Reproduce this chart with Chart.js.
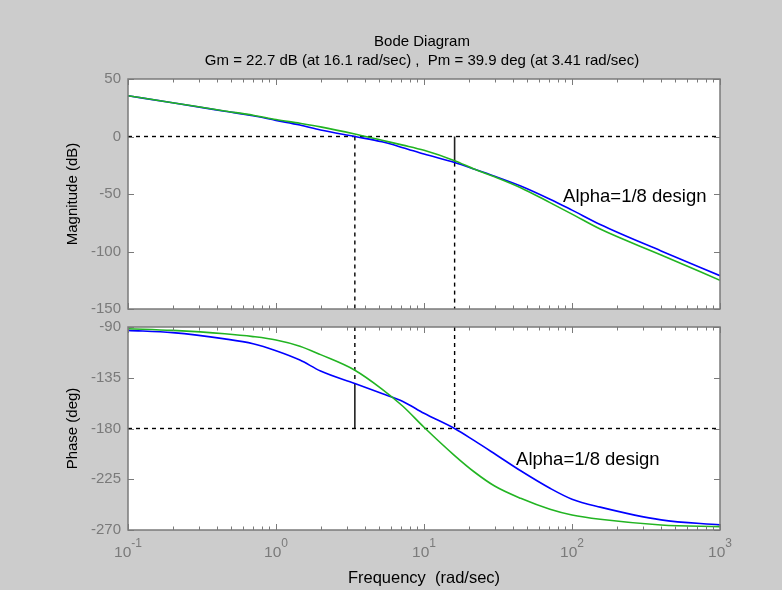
<!DOCTYPE html>
<html>
<head>
<meta charset="utf-8">
<script src="https://cdn.jsdelivr.net/npm/chart.js@4.4.1/dist/chart.umd.min.js"></script>
<style>
  html, body { margin: 0; padding: 0; background: #cccccc; overflow: hidden; }
  canvas { position: absolute; left: 0; top: 0; }
</style>
</head>
<body>
<canvas id="mag" width="782" height="590"></canvas>
<canvas id="phase" width="782" height="590"></canvas>
<script>
// frequencies (rad/sec) the curves were read at
const freq = [0.1, 0.2, 0.45, 0.7, 1, 1.45, 2, 3.41, 5.2, 7.2, 10, 16.1, 22, 30, 45, 71, 100, 155, 400, 1000];

// magnitude (dB)
const magBlue  = [35.4, 29.3, 22, 18, 14, 10, 5.7, 0, -4.6, -9.7, -15.3, -22.7, -28.5, -34.5, -43, -54.5, -64, -76.5, -99.5, -121];
const magGreen = [35.4, 29.4, 22.2, 18.5, 14.8, 11.5, 8.4, 2.2, -3.3, -7.5, -12, -21, -28.5, -35, -44.5, -57.5, -67.5, -80.5, -103, -125];

// phase (deg)
const phaseBlue  = [-93, -95, -100.5, -104.8, -111, -119.3, -129, -140.1, -149, -156, -166.5, -180, -191, -202.4, -217.5, -233, -242.7, -249.7, -261, -265.5];
const phaseGreen = [-91.5, -93, -96, -98.5, -101.5, -107, -114.5, -128.3, -145, -160.3, -178.9, -204, -218.8, -231, -241.9, -251.6, -256.7, -260.5, -265.5, -267];

// axes
const freqRange = [0.1, 1000];
const decadeExps = [-1, 0, 1, 2, 3];
const magRange = [-150, 50];
const magStep = 50;
const phaseRange = [-270, -90];
const phaseStep = 45;

// margins
const gm = 22.7, gmFreq = 16.1;
const pm = 39.9, pmFreq = 3.41;

// text notes (left edge at x, middle at y)
const noteText = 'Alpha=1/8 design';
const magNote = [87, -52.4];
const phaseNote = [41.9, -207.9];

const FONT = "'Liberation Sans', Arial, Helvetica, sans-serif";

const frame = {
  id: 'frame',
  beforeDraw(chart) {
    const {ctx, chartArea: a} = chart;
    ctx.save();
    ctx.fillStyle = '#ffffff';
    ctx.fillRect(a.left, a.top, a.width, a.height);
    ctx.restore();
  },
  afterDraw(chart, args, opts) {
    const {ctx, chartArea: a, scales} = chart;
    const xs = scales.x, ys = scales.y;
    ctx.save();
    ctx.strokeStyle = '#7a7a7a';
    ctx.lineWidth = 1;
    ctx.beginPath();
    ys.ticks.forEach(t => {
      const py = Math.round(ys.getPixelForValue(t.value)) + 0.5;
      ctx.moveTo(a.left, py); ctx.lineTo(a.left + 6, py);
      ctx.moveTo(a.right, py); ctx.lineTo(a.right - 6, py);
    });
    decadeExps.forEach(d => {
      for (let m = 1; m <= 9; m++) {
        const f = m * Math.pow(10, d);
        if (f > freqRange[1]) break;
        const px = Math.round(xs.getPixelForValue(f)) + 0.5;
        const len = m === 1 ? 6 : 3.5;
        ctx.moveTo(px, a.top); ctx.lineTo(px, a.top + len);
        ctx.moveTo(px, a.bottom); ctx.lineTo(px, a.bottom - len);
      }
    });
    ctx.stroke();
    ctx.lineWidth = 1.5;
    ctx.strokeRect(a.left, a.top, a.width, a.height);

    // note inside the plot
    ctx.fillStyle = '#000';
    ctx.font = '18.5px ' + FONT;
    ctx.textAlign = 'left';
    ctx.textBaseline = 'middle';
    const n = opts.note;
    ctx.fillText(noteText, xs.getPixelForValue(n[0]), ys.getPixelForValue(n[1]));

    const cx = (a.left + a.right) / 2;
    // title lines
    if (opts.title) {
      ctx.textAlign = 'center';
      ctx.font = '15px ' + FONT;
      opts.title.forEach((line, i) => ctx.fillText(line, cx - 2, 42 + i * 19));
    }
    // decade labels 10^n and x title
    if (opts.xLabels) {
      ctx.fillStyle = '#7a7a7a';
      decadeExps.forEach(d => {
        const px = xs.getPixelForValue(Math.pow(10, d));
        ctx.font = '15.5px ' + FONT;
        const w1 = ctx.measureText('10').width;
        ctx.font = '12px ' + FONT;
        const w2 = ctx.measureText(String(d)).width;
        const x0 = px - (w1 + w2) / 2;
        ctx.textAlign = 'left';
        ctx.textBaseline = 'alphabetic';
        ctx.font = '15.5px ' + FONT;
        ctx.fillText('10', x0, 557);
        ctx.font = '12px ' + FONT;
        ctx.fillText(String(d), x0 + w1, 547);
      });
      ctx.fillStyle = '#000';
      ctx.font = '16.5px ' + FONT;
      ctx.textAlign = 'center';
      ctx.textBaseline = 'middle';
      ctx.fillText('Frequency  (rad/sec)', cx, 578);
    }
    ctx.restore();
  }
};

function pts(ys) {
  return freq.map((f, i) => ({x: f, y: ys[i]}));
}

function curve(data, color) {
  return {data, borderColor: color, borderWidth: 1.6, pointRadius: 0,
          cubicInterpolationMode: 'monotone', fill: false};
}

function guide(data, dashed) {
  return {data, borderColor: dashed ? '#000' : '#222', borderWidth: dashed ? 1.4 : 1.6,
          borderDash: dashed ? [4, 4] : [], pointRadius: 0, fill: false};
}

function options(range, step, yTitle, pad, plug) {
  return {
    responsive: false,
    animation: false,
    events: [],
    layout: {padding: pad},
    plugins: {legend: {display: false}, tooltip: {enabled: false}, frame: plug},
    scales: {
      x: {type: 'logarithmic', display: false, min: freqRange[0], max: freqRange[1]},
      y: {
        min: range[0], max: range[1],
        grid: {display: false, drawTicks: false},
        border: {display: false},
        ticks: {stepSize: step, padding: 7, color: '#7a7a7a', font: {family: FONT, size: 15}},
        title: {display: true, text: yTitle, color: '#000', padding: {top: 4, bottom: 0},
                font: {family: FONT, size: 15}},
        afterFit(s) { s.width = 68; }
      }
    }
  };
}

const pmPhase = -180 + pm;

new Chart(document.getElementById('mag'), {
  type: 'line',
  data: {
    datasets: [
      curve(pts(magGreen), '#22b422'),
      curve(pts(magBlue), '#0000ff'),
      guide([{x: freqRange[0], y: 0}, {x: freqRange[1], y: 0}], true),
      guide([{x: pmFreq, y: 0}, {x: pmFreq, y: magRange[0]}], true),
      guide([{x: gmFreq, y: 0}, {x: gmFreq, y: -gm}], false),
      guide([{x: gmFreq, y: -gm}, {x: gmFreq, y: magRange[0]}], true)
    ]
  },
  options: options(magRange, magStep, 'Magnitude (dB)',
    {left: 60, top: 79, right: 62, bottom: 281},
    {note: magNote,
     title: ['Bode Diagram',
             `Gm = ${gm} dB (at ${gmFreq} rad/sec) ,  Pm = ${pm} deg (at ${pmFreq} rad/sec)`]}),
  plugins: [frame]
});

new Chart(document.getElementById('phase'), {
  type: 'line',
  data: {
    datasets: [
      curve(pts(phaseGreen), '#22b422'),
      curve(pts(phaseBlue), '#0000ff'),
      guide([{x: freqRange[0], y: -180}, {x: freqRange[1], y: -180}], true),
      guide([{x: pmFreq, y: phaseRange[1]}, {x: pmFreq, y: pmPhase}], true),
      guide([{x: pmFreq, y: pmPhase}, {x: pmFreq, y: -180}], false),
      guide([{x: gmFreq, y: phaseRange[1]}, {x: gmFreq, y: -180}], true)
    ]
  },
  options: options(phaseRange, phaseStep, 'Phase (deg)',
    {left: 60, top: 327, right: 62, bottom: 60},
    {note: phaseNote, xLabels: true}),
  plugins: [frame]
});
</script>
</body>
</html>
